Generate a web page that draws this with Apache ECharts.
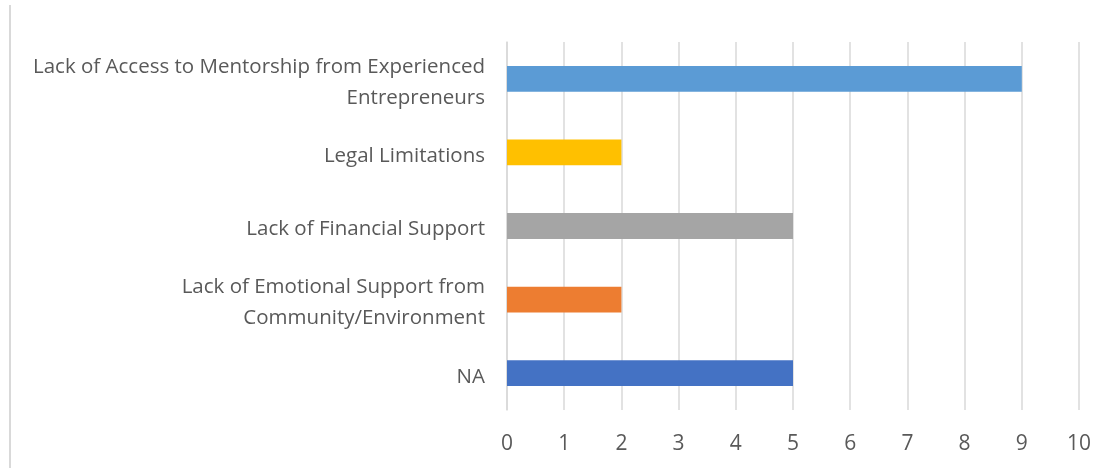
<!DOCTYPE html>
<html><head><meta charset="utf-8">
<script src="https://cdn.jsdelivr.net/npm/echarts@6/dist/echarts.min.js"></script>
<style>html,body{margin:0;padding:0;background:#fff}#c{width:1111px;height:468px}</style>
</head><body><div id="c"></div>
<script>
const categories = [
  "Lack of Access to Mentorship from Experienced\nEntrepreneurs",
  "Legal Limitations",
  "Lack of Financial Support",
  "Lack of Emotional Support from\nCommunity/Environment",
  "NA"
];
const values = [9, 2, 5, 2, 5];
const colors = ["#5B9BD5", "#FFC000", "#A5A5A5", "#ED7D31", "#4472C4"];
const xTicks = [0, 1, 2, 3, 4, 5, 6, 7, 8, 9, 10];

const chart = echarts.init(document.getElementById('c'));
chart.setOption({
  animation: false,
  textStyle: { fontFamily: '"Open Sans", sans-serif' },
  grid: { left: 507, right: 32, top: 42, bottom: 58 },
  graphic: [{ type: 'line', shape: { x1: 10, y1: 5, x2: 10, y2: 468 }, style: { stroke: '#d9d9d9', lineWidth: 2 } }],
  xAxis: {
    type: 'value', min: xTicks[0], max: xTicks[xTicks.length - 1], interval: 1,
    axisLine: { show: false }, axisTick: { show: false },
    splitLine: { lineStyle: { color: '#d9d9d9', width: 1.5 } },
    axisLabel: { color: '#595959', fontSize: 21, margin: 24 }
  },
  yAxis: {
    type: 'category', data: categories, inverse: true,
    axisLine: { lineStyle: { color: '#d9d9d9', width: 1.5 } },
    axisTick: { show: false },
    axisLabel: {
      color: '#595959', fontSize: 20.5, margin: 22, lineHeight: 31, align: 'right',
      formatter: v => '{s|}\n' + v.split('\n').map(s => '{t|' + s + '}').join('\n'),
      rich: {
        t: { color: '#595959', fontSize: 20.5, lineHeight: 31, fontFamily: '"Open Sans", sans-serif' },
        s: { fontSize: 1, lineHeight: 7 }
      }
    }
  },
  series: [{
    type: 'bar', barWidth: '35%',
    data: values.map((v, i) => ({ value: v, itemStyle: { color: colors[i] } }))
  }]
});
</script></body></html>
